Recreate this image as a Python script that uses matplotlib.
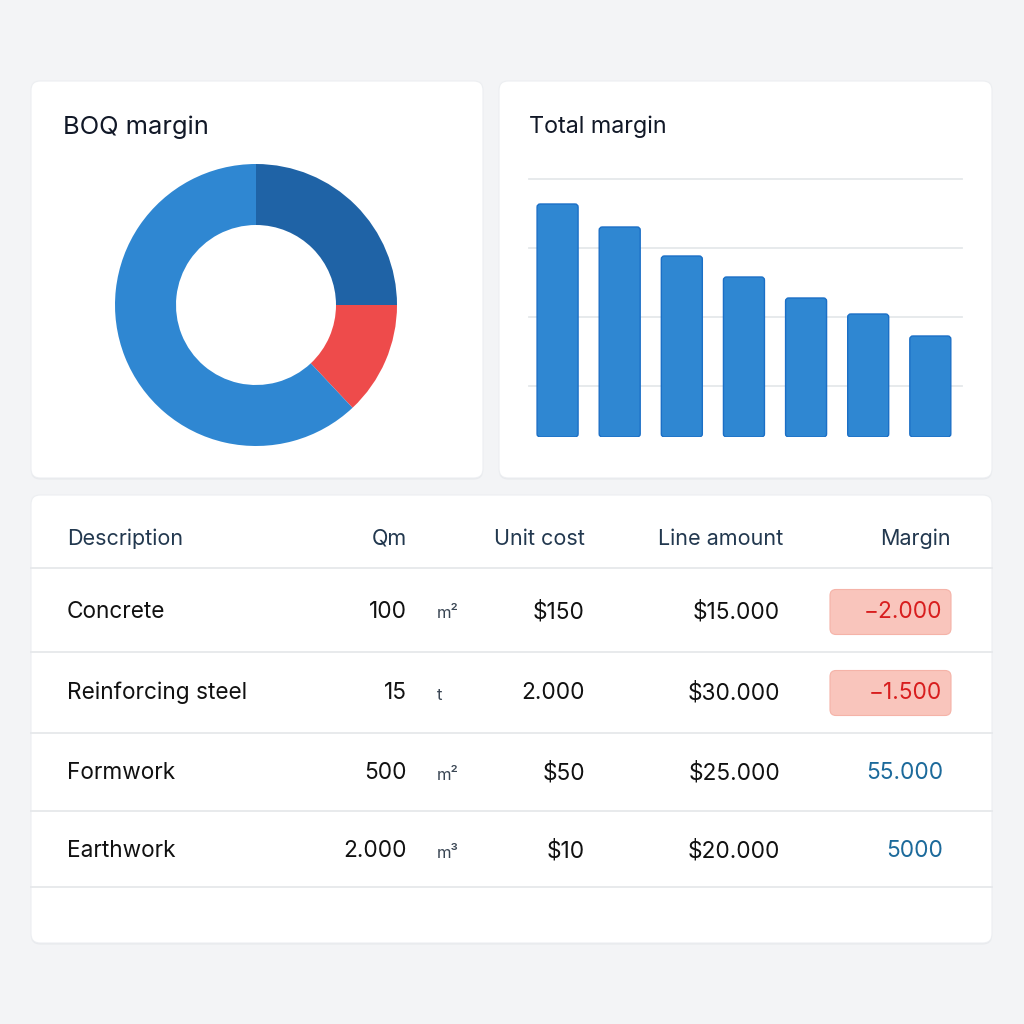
import matplotlib.pyplot as plt
from matplotlib.patches import FancyBboxPatch

plt.rcParams['font.family'] = ['Inter', 'DejaVu Sans']

# donut data
donut_labels = ['Group A', 'Group B', 'Group C']
donut_values = [25, 13, 62]
donut_colors = ['#1f63a6', '#ee4b4b', '#2f87d2']

# bar data
bar_values = [23.3, 21.0, 18.1, 16.0, 13.9, 12.3, 10.1]
grid_values = [5.1, 12.0, 18.9, 25.8]

# table data
headers = ['Description', 'Qm', 'Unit cost', 'Line amount', 'Margin']
descriptions = ['Concrete', 'Reinforcing steel', 'Formwork', 'Earthwork']
quantities = ['100', '15', '500', '2.000']
units = ['m²', 't', 'm²', 'm³']
unit_costs = ['$150', '2.000', '$50', '$10']
line_amounts = ['$15.000', '$30.000', '$25.000', '$20.000']
margins = ['−2.000', '−1.500', '55.000', '5000']
negative = [True, True, False, False]

W = 1024
fig = plt.figure(figsize=(10.24, 10.24), dpi=100, facecolor='#f3f4f6')

# background axes in pixel coordinates
bg = fig.add_axes([0, 0, 1, 1])
bg.set_xlim(0, W)
bg.set_ylim(W, 0)
bg.axis('off')


def card(x0, y0, x1, y1):
    shadow = FancyBboxPatch((x0, y0 + 1.5), x1 - x0, y1 - y0,
                            boxstyle='round,pad=0,rounding_size=9',
                            facecolor='#e7e9ec', edgecolor='none', zorder=1)
    bg.add_patch(shadow)
    box = FancyBboxPatch((x0, y0), x1 - x0, y1 - y0,
                         boxstyle='round,pad=0,rounding_size=9',
                         facecolor='white', edgecolor='#eceef1', lw=0.8, zorder=2)
    bg.add_patch(box)


card(31, 81, 483, 478)
card(499, 81, 992, 478)
card(31, 495, 992, 943)

bg.text(63, 127, 'BOQ margin', fontsize=18.3, color='#111827', va='center', zorder=3)
bg.text(529, 127, 'Total margin', fontsize=16.8, color='#111827', va='center', zorder=3)

# donut
cx, cy, r = 256, 305, 141
ax1 = fig.add_axes([(cx - r) / W, (W - cy - r) / W, 2 * r / W, 2 * r / W])
ax1.pie(donut_values, colors=donut_colors, startangle=90, counterclock=False,
        radius=1, wedgeprops=dict(width=1 - 80 / 141, edgecolor='none'))
ax1.set_xlim(-1, 1)
ax1.set_ylim(-1, 1)
ax1.set_aspect('equal')
ax1.axis('off')

# bars
ax2 = fig.add_axes([529 / W, (W - 437) / W, 433 / W, 258 / W])
ax2.set_xlim(-0.46, 6.51)
ax2.set_ylim(0, 25.8)
for g in grid_values:
    ax2.axhline(g, color='#e5e8eb', lw=1.3, zorder=0, clip_on=False)
bars = ax2.bar(range(len(bar_values)), bar_values, width=0.66, color='none',
               edgecolor='none')
# rounded versions of the bars
for b in bars:
    rb = FancyBboxPatch((b.get_x(), b.get_y()), b.get_width(), b.get_height(),
                        boxstyle='round,pad=0,rounding_size=0.05',
                        mutation_aspect=6.2, facecolor='#2f87d2',
                        edgecolor='#1b6fc6', lw=1.0, zorder=2)
    ax2.add_patch(rb)
ax2.axis('off')

# table
col_x = [67, 407, 585, 783, 951]
col_ha = ['left', 'right', 'right', 'right', 'right']
for h, x, ha in zip(headers, col_x, col_ha):
    bg.text(x, 539, h, fontsize=15.5, color='#22384f', ha=ha, va='center', zorder=3)

row_y = [612, 693, 773, 851]
line_y = [568, 652, 733, 811, 887]
for ly in line_y:
    bg.plot([31, 992], [ly, ly], color='#e6e8eb', lw=1.3, zorder=3)

fs = 16.3
for i, y in enumerate(row_y):
    bg.text(67, y, descriptions[i], fontsize=fs, color='#111111', va='center', zorder=4)
    bg.text(407, y, quantities[i], fontsize=fs, color='#111111', ha='right', va='center', zorder=4)
    bg.text(437, y + 2, units[i], fontsize=12, color='#3a4654', ha='left', va='center', zorder=4)
    bg.text(585, y, unit_costs[i], fontsize=fs, color='#111111', ha='right', va='center', zorder=4)
    bg.text(780, y, line_amounts[i], fontsize=fs, color='#111111', ha='right', va='center', zorder=4)
    if negative[i]:
        pill = FancyBboxPatch((830, y - 22.5), 121, 45,
                              boxstyle='round,pad=0,rounding_size=6',
                              facecolor='#f9c5bc', edgecolor='#f5b3a8', lw=0.8, zorder=3)
        bg.add_patch(pill)
        bg.text(942, y, margins[i], fontsize=fs, color='#d81e1e', ha='right', va='center', zorder=4)
    else:
        bg.text(943, y, margins[i], fontsize=fs, color='#1c6a9b', ha='right', va='center', zorder=4)

fig.savefig('out.png', dpi=100, facecolor=fig.get_facecolor())
